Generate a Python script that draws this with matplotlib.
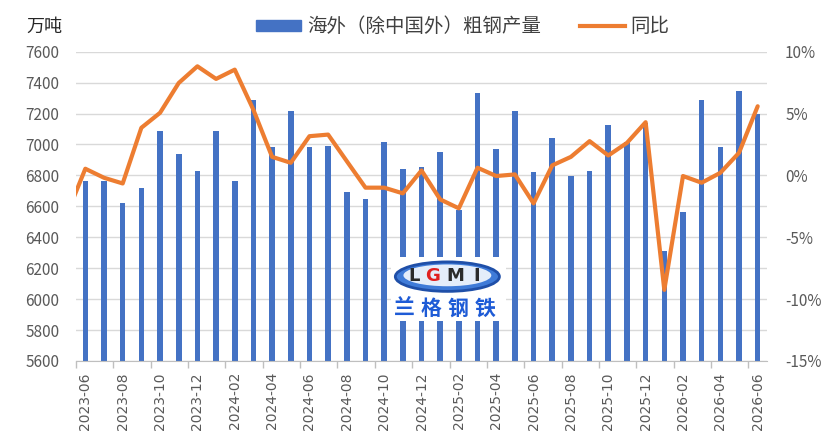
import numpy as np
import matplotlib.pyplot as plt
from matplotlib.patches import Ellipse
from matplotlib.lines import Line2D
from matplotlib.patches import Patch

plt.rcParams['font.family'] = ['Noto Sans CJK SC', 'DejaVu Sans']

# mois 2023-06 .. 2026-06
months = ['2023-06', '2023-07', '2023-08', '2023-09', '2023-10', '2023-11', '2023-12',
          '2024-01', '2024-02', '2024-03', '2024-04', '2024-05', '2024-06', '2024-07',
          '2024-08', '2024-09', '2024-10', '2024-11', '2024-12', '2025-01', '2025-02',
          '2025-03', '2025-04', '2025-05', '2025-06', '2025-07', '2025-08', '2025-09',
          '2025-10', '2025-11', '2025-12', '2026-01', '2026-02', '2026-03', '2026-04',
          '2026-05', '2026-06']

output = [6766, 6762, 6620, 6721, 7088, 6940, 6826, 7088, 6761, 7288, 6981, 7217,
          6981, 6987, 6693, 6650, 7017, 6841, 6852, 6951, 6579, 7331, 6970, 7217,
          6822, 7041, 6794, 6828, 7129, 7015, 7142, 6312, 6566, 7288, 6981, 7348, 7200]

# 同比 (%), le premier point est 2023-05 (hors du cadre)
yoy_prev = -3.2
yoy = [0.54, -0.19, -0.65, 3.85, 5.06, 7.47, 8.82, 7.8, 8.55, 5.3, 1.5, 1.02,
       3.17, 3.3, 1.15, -0.99, -0.99, -1.45, 0.4, -1.94, -2.66, 0.62, -0.05, 0.08,
       -2.26, 0.81, 1.5, 2.77, 1.61, 2.63, 4.3, -9.25, -0.05, -0.59, 0.21, 1.83, 5.59]

blue = '#4472C4'
orange = '#ED7D31'
gray = '#595959'

fig = plt.figure(figsize=(8.26, 4.33), dpi=100)
ax = fig.add_axes([0.092, 0.1663, 0.8366, 0.7143])

x = np.arange(len(months))
ax.bar(x, output, width=0.3, color=blue, zorder=2)
ax.set_ylim(5600, 7600)
ax.set_yticks(np.arange(5600, 7601, 200))
ax.set_xlim(-0.5, len(months) - 0.5)
ax.grid(axis='y', color='#D9D9D9', linewidth=1, zorder=0)
ax.set_axisbelow(True)

ax.set_xticks(x[::2])
ax.set_xticklabels(months[::2], rotation=90, fontsize=10, color=gray,
                   family='DejaVu Sans')
ax.set_xticks(np.arange(-0.5, len(months) - 0.5, 2), minor=True)
ax.tick_params(axis='x', which='major', length=0, pad=8)
ax.tick_params(axis='x', which='minor', length=5, color='#BFBFBF', width=1)
ax.tick_params(axis='y', length=0, pad=12, labelsize=11, labelcolor=gray)
for s in ['top', 'right', 'left']:
    ax.spines[s].set_visible(False)
ax.spines['bottom'].set_color('#BFBFBF')

ax2 = ax.twinx()
ax2.plot(np.arange(-1, len(months)), [yoy_prev] + yoy, color=orange, linewidth=3,
         solid_joinstyle='round', solid_capstyle='round', zorder=3)
ax2.set_ylim(-15, 10)
ax2.set_yticks(np.arange(-15, 11, 5))
ax2.set_yticklabels([f'{v}%' for v in range(-15, 11, 5)])
ax2.tick_params(axis='y', length=0, pad=13, labelsize=11, labelcolor=gray)
ax2.set_xlim(-0.5, len(months) - 0.5)
for s in ax2.spines.values():
    s.set_visible(False)

fig.text(0.032, 0.938, '万吨', fontsize=13, color='#262626', va='center', ha='left')

handles = [Patch(color=blue), Line2D([0], [0], color=orange, linewidth=3)]
fig.legend(handles, ['海外（除中国外）粗钢产量', '同比'], loc='center',
           bbox_to_anchor=(0.5605, 0.938), ncol=2, frameon=False, fontsize=14,
           handlelength=2.3, handleheight=0.55, handletextpad=0.3,
           columnspacing=2.0, labelcolor='#404040')

# logo
logo = fig.add_axes([0.473, 0.259, 0.140, 0.148])
logo.set_facecolor('white')
logo.set_xlim(0, 1)
logo.set_ylim(0, 1)
logo.set_xticks([])
logo.set_yticks([])
for s in logo.spines.values():
    s.set_visible(False)
logo.add_patch(Ellipse((0.49, 0.69), 0.9, 0.46, facecolor='#3F7BD8',
                       edgecolor='#1F4FA8', linewidth=2))
logo.add_patch(Ellipse((0.49, 0.71), 0.76, 0.34, facecolor='#E4EDFA',
                       edgecolor='none'))
letters = [('L', '#2B2B2B'), ('G', '#E02020'), ('M', '#2B2B2B'), ('I', '#2B2B2B')]
for c, col, lx in zip([l[0] for l in letters], [l[1] for l in letters],
                      [0.2, 0.36, 0.56, 0.74]):
    logo.text(lx, 0.70, c, fontsize=13, fontweight='bold', color=col,
              ha='center', va='center', family='DejaVu Sans')
for ch, lx in zip('兰格钢铁', [0.12, 0.35, 0.58, 0.82]):
    logo.text(lx, 0.19, ch, fontsize=15, fontweight='bold', color='#1E5BD6',
              ha='center', va='center', style='italic')

fig.savefig('out.png', dpi=100, facecolor='white')
